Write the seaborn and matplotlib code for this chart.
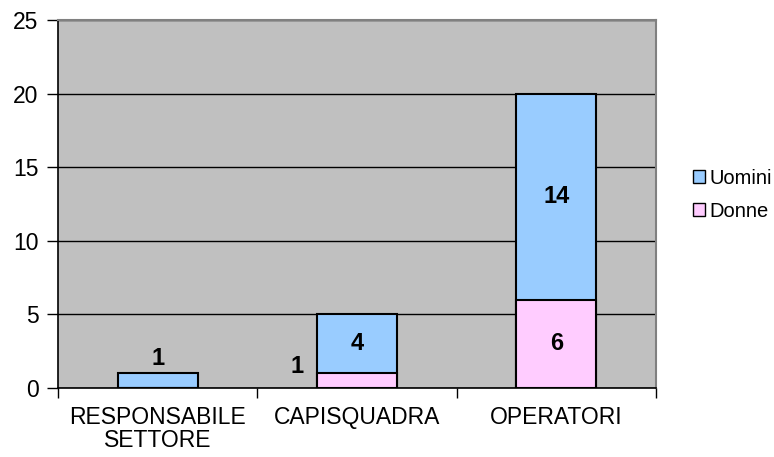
import matplotlib
matplotlib.use("Agg")
import matplotlib.pyplot as plt
import seaborn as sns
import pandas as pd
from matplotlib.patches import Patch

categories = ["RESPONSABILE\nSETTORE", "CAPISQUADRA", "OPERATORI"]
donne = [0, 1, 6]
uomini = [1, 4, 14]

df = pd.DataFrame({"Categoria": categories, "Donne": donne, "Uomini": uomini})
df["Totale"] = df["Donne"] + df["Uomini"]

sns.set_style("white")
plt.rcParams["font.family"] = ["Liberation Sans", "DejaVu Sans"]
plt.rcParams["text.color"] = "black"
plt.rcParams["xtick.color"] = "black"
plt.rcParams["ytick.color"] = "black"

c_uomini = "#99CCFF"
c_donne = "#FFCCFF"

fig = plt.figure(figsize=(7.74, 4.57), dpi=100)
ax = fig.add_axes([0.0749, 0.151, 0.7726, 0.805])
ax.set_facecolor("#C0C0C0")

# stacked: total first, then Donne on top of it
sns.barplot(data=df, x="Categoria", y="Totale", color=c_uomini, width=0.4,
            edgecolor="black", linewidth=1.5, saturation=1, ax=ax, zorder=3)
sns.barplot(data=df, x="Categoria", y="Donne", color=c_donne, width=0.4,
            edgecolor="black", linewidth=1.5, saturation=1, ax=ax, zorder=4)

# data labels
fs = 17
for i, row in df.iterrows():
    if row["Donne"] >= 3:
        ax.text(i, row["Donne"] / 2, str(row["Donne"]), ha="center", va="center",
                fontsize=fs, fontweight="bold", zorder=5)
    elif row["Donne"] > 0:
        ax.text(i - 0.3, row["Donne"] + 0.45, str(row["Donne"]), ha="center", va="center",
                fontsize=fs, fontweight="bold", zorder=5)
    if row["Uomini"] >= 3:
        ax.text(i, row["Donne"] + row["Uomini"] / 2, str(row["Uomini"]), ha="center",
                va="center", fontsize=fs, fontweight="bold", zorder=5)
    elif row["Uomini"] > 0:
        ax.text(i, row["Totale"] + 1.0, str(row["Uomini"]), ha="center", va="center",
                fontsize=fs, fontweight="bold", zorder=5)

ax.set_ylim(0, 25)
ax.set_xlim(-0.5, 2.5)
ax.set_yticks(range(0, 26, 5))
ax.yaxis.grid(True, color="black", linewidth=1, zorder=0)
ax.set_axisbelow(True)
ax.set_xlabel("")
ax.set_ylabel("")

ax.tick_params(axis="y", which="major", direction="out", length=8, width=1,
               color="black", labelsize=16.5, left=True, pad=6)
ax.tick_params(axis="x", which="major", length=0, labelsize=16.5, pad=13)
ax.set_xticks([-0.5, 0.5, 1.5, 2.5], minor=True)
ax.tick_params(axis="x", which="minor", direction="out", length=7, width=1,
               color="black", bottom=True)
for lbl in ax.get_xticklabels():
    lbl.set_linespacing(1.0)

for s in ["left", "bottom"]:
    ax.spines[s].set_color("black")
    ax.spines[s].set_linewidth(1.2)
for s in ["top", "right"]:
    ax.spines[s].set_color("#808080")
    ax.spines[s].set_linewidth(1.5)

handles = [Patch(facecolor=c_uomini, edgecolor="black", label="Uomini"),
           Patch(facecolor=c_donne, edgecolor="black", label="Donne")]
fig.legend(handles=handles, loc="center left", bbox_to_anchor=(0.872, 0.574),
           frameon=False, fontsize=14.5, handlelength=0.6, handleheight=0.6,
           handletextpad=0.2, labelspacing=0.7)

fig.savefig("out.png", dpi=100)
